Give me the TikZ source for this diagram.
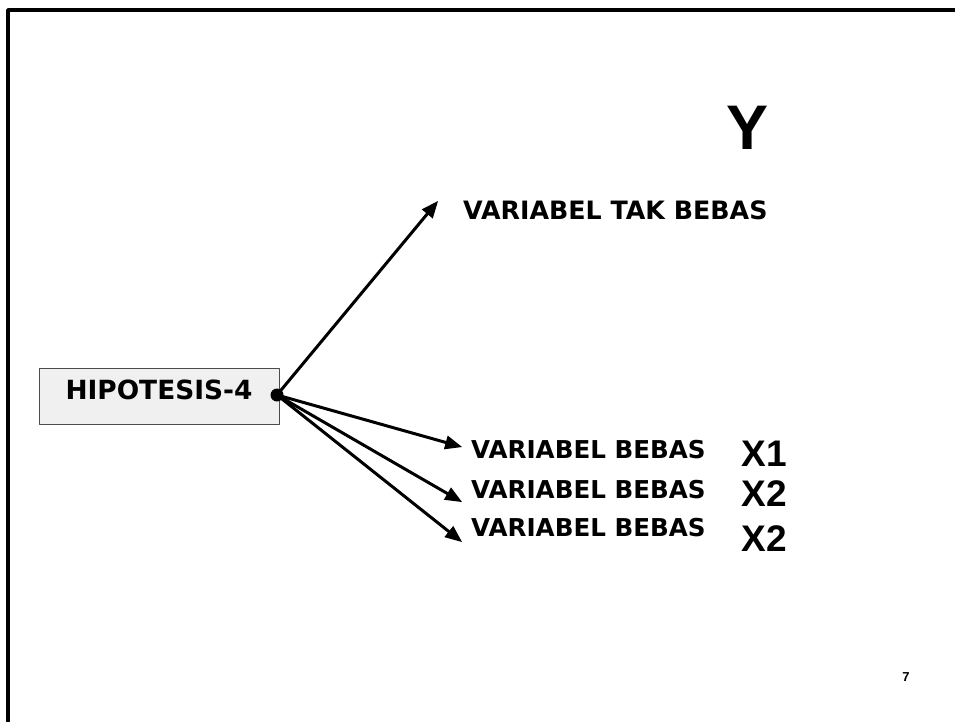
\documentclass[tikz,border=0pt]{standalone}
\usepackage{fontspec}
\usepackage{tikz}
\usetikzlibrary{arrows}
\newfontfamily\comicfont{DejaVu Sans}
\newfontfamily\arialfont{Liberation Sans}

\begin{document}
\begin{tikzpicture}[line cap=round,line join=round,>=triangle 45,x=1pt,y=-1pt]
\useasboundingbox (0,0) rectangle (955,722);
\clip (0,0) rectangle (955,722);
\draw [line width=3.5pt] (8,10) rectangle (975,740);
% kotak hipotesis
\node (hyp) [draw=black!70,fill=black!6,line width=1pt,minimum width=240pt,minimum height=56pt,inner sep=0pt] at (159,396) {};
\node (hyptxt) at (159,389.5) {\comicfont\bfseries\fontsize{26.4}{27}\selectfont HIPOTESIS-4};
% label variabel
\node (tak) [anchor=west,inner sep=0pt] at (463,210) {\comicfont\bfseries\fontsize{25.3}{26}\selectfont VARIABEL TAK BEBAS};
\node (bebasa) [anchor=west,inner sep=0pt] at (471,450) {\comicfont\bfseries\fontsize{24.6}{25}\selectfont VARIABEL BEBAS};
\node (bebasb) [anchor=west,inner sep=0pt] at (471,490) {\comicfont\bfseries\fontsize{24.6}{25}\selectfont VARIABEL BEBAS};
\node (bebasc) [anchor=west,inner sep=0pt] at (471,528) {\comicfont\bfseries\fontsize{24.6}{25}\selectfont VARIABEL BEBAS};
\node (y) at (747.5,127.5) {\arialfont\bfseries\fontsize{63}{63}\selectfont Y};
\node (xa) at (764.5,453.5) {\arialfont\bfseries\fontsize{37}{37}\selectfont X1};
\node (xb) at (764.5,494) {\arialfont\bfseries\fontsize{37}{37}\selectfont X2};
\node (xc) at (764.5,539) {\arialfont\bfseries\fontsize{37}{37}\selectfont X2};
\node (hal) at (906,677) {\arialfont\bfseries\fontsize{13}{13}\selectfont 7};
% panah
\coordinate (hub) at (277,395);
\coordinate (ujungy) at (438,201);
\coordinate (ujunga) at (462,447);
\coordinate (ujungb) at (462,502);
\coordinate (ujungc) at (462,542);
\draw [->,line width=3pt] (hub) -- (ujungy);
\draw [->,line width=3pt] (hub) -- (ujunga);
\draw [->,line width=3pt] (hub) -- (ujungb);
\draw [->,line width=3pt] (hub) -- (ujungc);
\fill (hub) circle (6.5);
\end{tikzpicture}
\end{document}
